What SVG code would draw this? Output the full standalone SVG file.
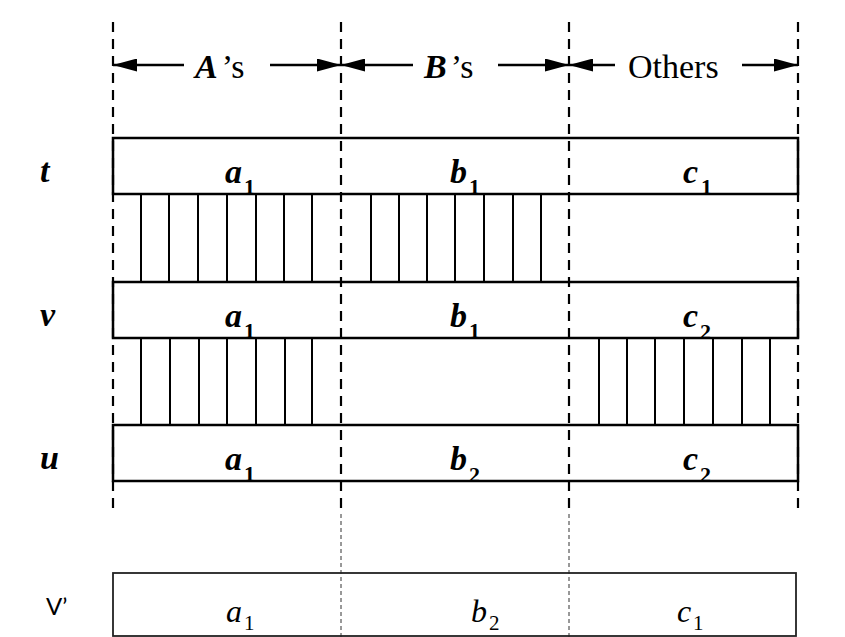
<svg xmlns="http://www.w3.org/2000/svg" width="845" height="637" viewBox="0 0 845 637">
<style>
.dash{stroke:#000;stroke-width:2.2;stroke-dasharray:10 7;fill:none}
.thin{stroke:#333;stroke-width:1;stroke-dasharray:4 3;fill:none}
.box{fill:none;stroke:#000;stroke-width:2.5}
.box2{fill:none;stroke:#222;stroke-width:1.8}
.hat{stroke:#000;stroke-width:2}
.arr{stroke:#000;stroke-width:2.4;fill:none}
.var{font-family:"Liberation Serif",serif;font-style:italic;font-weight:bold;font-size:34px;fill:#000}
.sub{font-family:"Liberation Serif",serif;font-weight:bold;font-size:22px;fill:#000}
.hdr{font-family:"Liberation Serif",serif;font-size:34px;fill:#000}
.mvar{font-family:"Liberation Serif",serif;font-style:italic;font-size:32px;fill:#000}
.msub{font-family:"Liberation Serif",serif;font-size:21px;fill:#000}
.lbl{font-family:"Lato","Liberation Sans",sans-serif;font-size:24px;fill:#000}
</style>
<defs>
<marker id="ah" viewBox="0 0 24 13" refX="24" refY="6.5" markerWidth="24" markerHeight="13" markerUnits="userSpaceOnUse" orient="auto-start-reverse">
<path d="M0,0 L24,6.5 L0,13 Z" fill="#000"/>
</marker>
</defs>
<g id="guides">
<line class="dash" x1="113" y1="22" x2="113" y2="514"/>
<line class="dash" x1="341" y1="22" x2="341" y2="514"/>
<line class="dash" x1="569" y1="22" x2="569" y2="514"/>
<line class="dash" x1="798" y1="22" x2="798" y2="514"/>
<line class="thin" x1="341" y1="514" x2="341" y2="637"/>
<line class="thin" x1="569" y1="514" x2="569" y2="637"/>
</g>
<g id="connectors">
<line class="arr" x1="184" y1="65" x2="113" y2="65" marker-end="url(#ah)"/>
<line class="arr" x1="270" y1="65" x2="341" y2="65" marker-end="url(#ah)"/>
<line class="arr" x1="413" y1="65" x2="341" y2="65" marker-end="url(#ah)"/>
<line class="arr" x1="498" y1="65" x2="569" y2="65" marker-end="url(#ah)"/>
<line class="arr" x1="615" y1="65" x2="569" y2="65" marker-end="url(#ah)"/>
<line class="arr" x1="742" y1="65" x2="798" y2="65" marker-end="url(#ah)"/>
</g>
<g id="headers">
<text class="hdr" x="195" y="78"><tspan font-style="italic" font-weight="bold">A</tspan><tspan dx="4">’s</tspan></text>
<text class="hdr" x="424" y="78"><tspan font-style="italic" font-weight="bold">B</tspan><tspan dx="4">’s</tspan></text>
<text class="hdr" x="628" y="78">Others</text>
</g>
<g id="row-t">
<rect class="box" x="113" y="138" width="685" height="56"/>
<text class="var" x="40" y="182">t</text>
<text class="var" x="225" y="183">a</text><text class="sub" x="244" y="194">1</text>
<text class="var" x="450" y="183">b</text><text class="sub" x="469" y="194">1</text>
<text class="var" x="683" y="183">c</text><text class="sub" x="701" y="194">1</text>
</g>
<g id="hatch-tv">
<path class="hat" d="M141,194V282M169,194V282M198,194V282M227,194V282M256,194V282M284,194V282M312,194V282M371,194V282M399,194V282M427,194V282M455,194V282M484,194V282M513,194V282M541,194V282"/>
</g>
<g id="row-v">
<rect class="box" x="113" y="282" width="685" height="56"/>
<text class="var" x="40" y="326">v</text>
<text class="var" x="225" y="327">a</text><text class="sub" x="244" y="338">1</text>
<text class="var" x="450" y="327">b</text><text class="sub" x="469" y="338">1</text>
<text class="var" x="683" y="327">c</text><text class="sub" x="700" y="339">2</text>
</g>
<g id="hatch-vu">
<path class="hat" d="M141,338V425M170,338V425M199,338V425M227,338V425M256,338V425M285,338V425M312,338V425M599,338V425M627,338V425M655,338V425M684,338V425M713,338V425M742,338V425M770,338V425"/>
</g>
<g id="row-u">
<rect class="box" x="113" y="425" width="685" height="56"/>
<text class="var" x="40" y="469">u</text>
<text class="var" x="225" y="470">a</text><text class="sub" x="244" y="481">1</text>
<text class="var" x="450" y="470">b</text><text class="sub" x="469" y="482">2</text>
<text class="var" x="683" y="470">c</text><text class="sub" x="700" y="482">2</text>
</g>
<g id="row-vprime">
<rect class="box2" x="113" y="573" width="683" height="63"/>
<text class="lbl" x="46" y="615">V’</text>
<text class="mvar" x="226" y="622">a</text><text class="msub" x="244" y="630">1</text>
<text class="mvar" x="471" y="622">b</text><text class="msub" x="489" y="630">2</text>
<text class="mvar" x="677" y="622">c</text><text class="msub" x="693" y="630">1</text>
</g>
</svg>
